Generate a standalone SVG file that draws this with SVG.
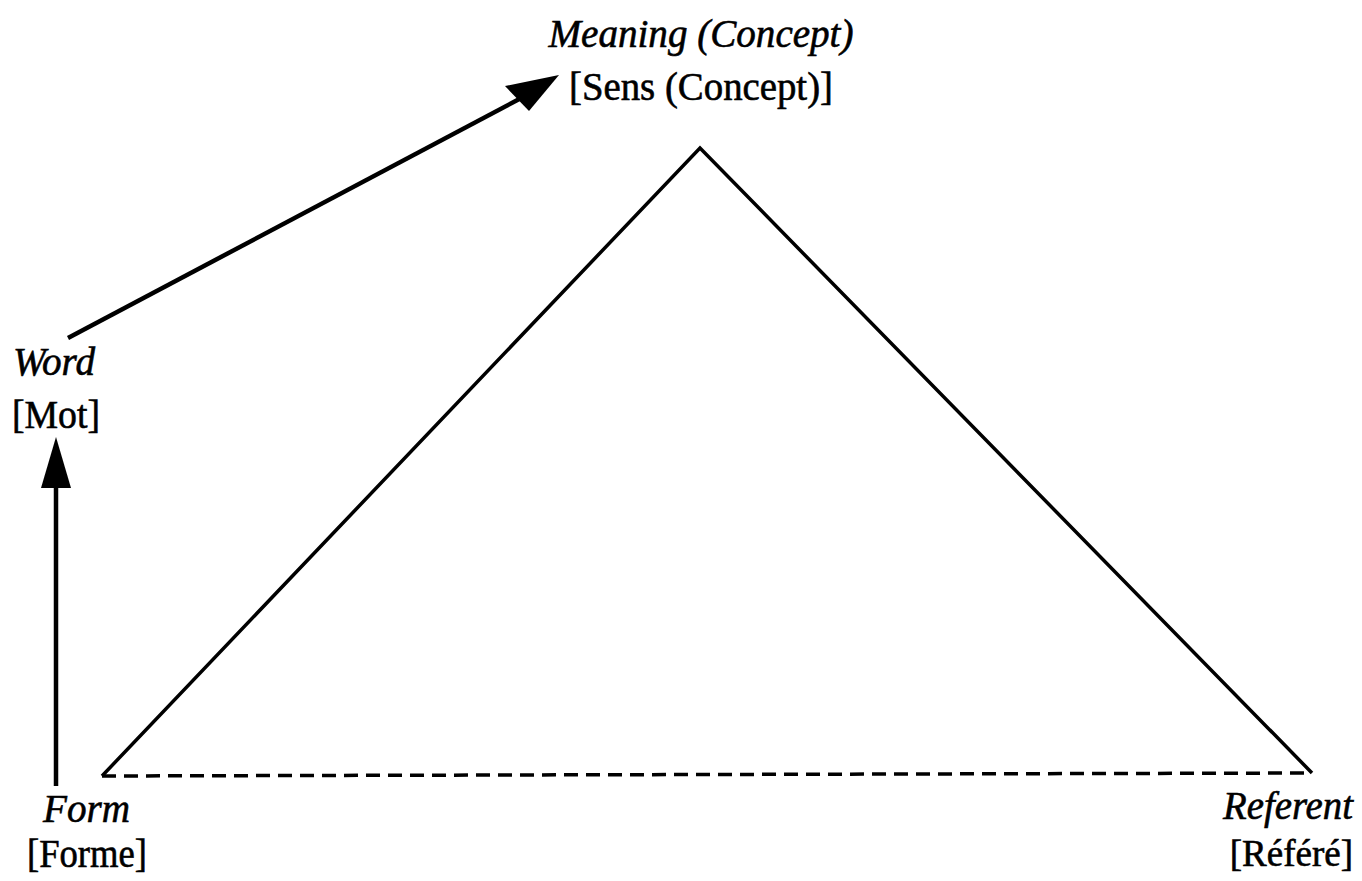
<svg xmlns="http://www.w3.org/2000/svg" width="1362" height="881" viewBox="0 0 1362 881">
<defs>
<style>
text{font-family:"Liberation Serif","Times New Roman",serif;font-size:40px;fill:#000;stroke:#000;stroke-width:0.6}
.it{font-style:italic}
.edge{stroke:#000;stroke-width:3.5;fill:none}
.arrow{stroke:#000;stroke-width:4.5;fill:none}
.dash{stroke:#000;stroke-width:3.5;fill:none;stroke-dasharray:14 8}
</style>
</defs>
<rect width="1362" height="881" fill="#fff"/>
<g id="connectors">
<path class="edge" d="M102 776 L700 148 L1312 773"/>
<path class="dash" d="M102 776 L1312 773"/>
<path class="arrow" d="M56 786 L56 480"/>
<polygon points="56,437 41,488 71,488" fill="#000"/>
<path class="arrow" d="M68 338 L525 96"/>
<polygon points="559,75 505,86 529,111" fill="#000"/>
</g>
<g id="meaning">
<text class="it" x="701" y="47" text-anchor="middle" textLength="305" lengthAdjust="spacingAndGlyphs">Meaning (Concept)</text>
<text x="701" y="100" text-anchor="middle" textLength="264" lengthAdjust="spacingAndGlyphs">[Sens (Concept)]</text>
</g>
<g id="word">
<text class="it" x="13" y="375" textLength="82" lengthAdjust="spacingAndGlyphs">Word</text>
<text x="12" y="428" textLength="88" lengthAdjust="spacingAndGlyphs">[Mot]</text>
</g>
<g id="form">
<text class="it" x="43" y="822" textLength="87" lengthAdjust="spacingAndGlyphs">Form</text>
<text x="27" y="867" textLength="120" lengthAdjust="spacingAndGlyphs">[Forme]</text>
</g>
<g id="referent">
<text class="it" x="1353" y="819" text-anchor="end" textLength="130" lengthAdjust="spacingAndGlyphs">Referent</text>
<text x="1353" y="866" text-anchor="end" style="font-size:37px">[Référé]</text>
</g>
</svg>
